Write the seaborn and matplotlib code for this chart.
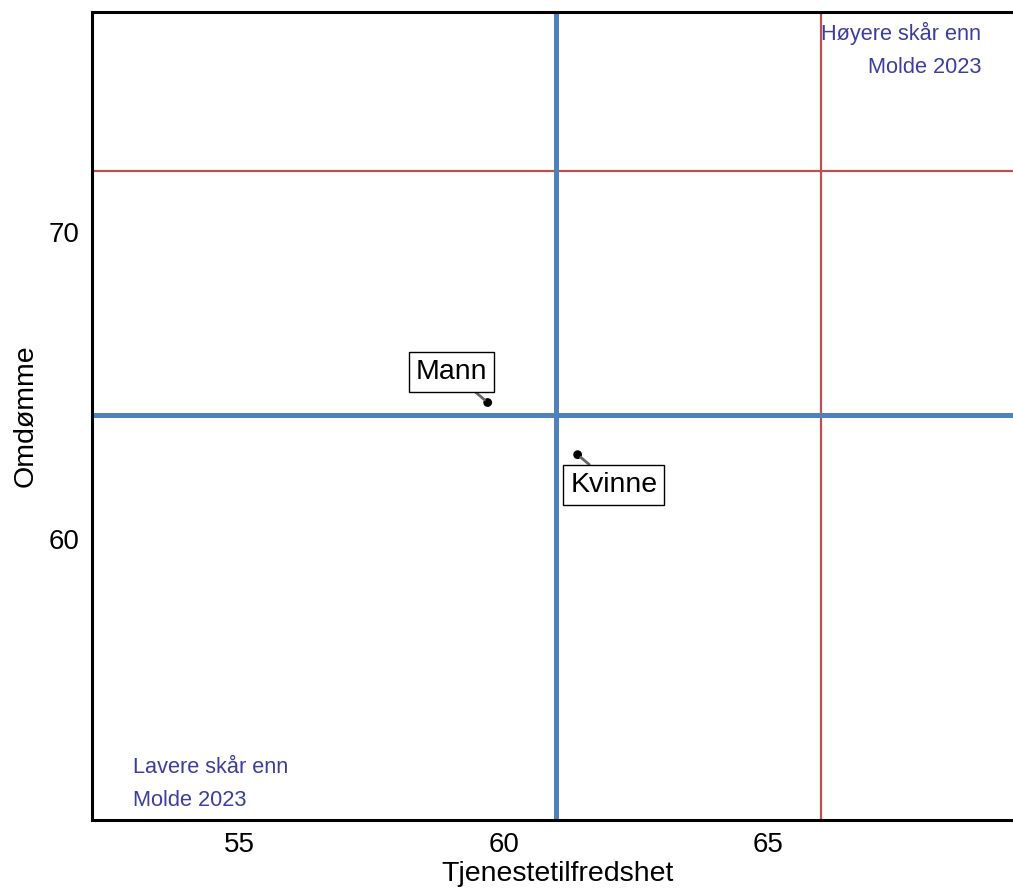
import pandas as pd
import matplotlib
matplotlib.use("Agg")
import matplotlib.pyplot as plt
import seaborn as sns

# data
groups = ["Mann", "Kvinne"]
tjenestetilfredshet = [59.7, 61.4]
omdomme = [64.45, 62.75]

# reference lines (blue = current average, red = Molde 2023)
avg_x = 61.0
avg_y = 64.05
molde_x = 66.0
molde_y = 72.0

label_offsets = [(-26, 22), (26, -22)]

BLUE = "#4F81BD"
RED = "#C0504D"
TEXTCOL = "#3D3DA0"


def make_df():
    return pd.DataFrame({"gruppe": groups,
                         "Tjenestetilfredshet": tjenestetilfredshet,
                         "Omdømme": omdomme})


def quadrant_plot(df):
    sns.set_style("white")
    plt.rcParams["font.family"] = ["Liberation Sans", "DejaVu Sans"]
    plt.rcParams["text.color"] = "black"
    plt.rcParams["axes.labelcolor"] = "black"
    plt.rcParams["xtick.color"] = "black"
    plt.rcParams["ytick.color"] = "black"

    fig = plt.figure(figsize=(10.13, 8.9), dpi=100)
    ax = fig.add_axes([92 / 1013, 70 / 890, 921 / 1013, 808 / 890])

    ax.axvline(molde_x, color=RED, lw=1.6, zorder=1)
    ax.axhline(molde_y, color=RED, lw=1.6, zorder=1)
    ax.axvline(avg_x, color=BLUE, lw=3.6, zorder=2)
    ax.axhline(avg_y, color=BLUE, lw=3.6, zorder=2)

    sns.scatterplot(data=df, x="Tjenestetilfredshet", y="Omdømme",
                    color="black", s=40, edgecolor="none", zorder=4, ax=ax)

    for (_, row), off in zip(df.iterrows(), label_offsets):
        ax.annotate(row["gruppe"],
                    xy=(row["Tjenestetilfredshet"], row["Omdømme"]),
                    xytext=off, textcoords="offset points",
                    ha="center", va="center", fontsize=20.5, zorder=5,
                    color="black",
                    bbox=dict(boxstyle="square,pad=0.25", fc="white",
                              ec="black", lw=1.0),
                    arrowprops=dict(arrowstyle="-", color="#666666",
                                    lw=2, shrinkA=0, shrinkB=3))

    ax.text(69.03, 76.85, "Høyere skår enn\nMolde 2023", ha="right",
            va="top", color=TEXTCOL, fontsize=15.7, linespacing=1.75)
    ax.text(53.0, 51.15, "Lavere skår enn\nMolde 2023", ha="left",
            va="bottom", color=TEXTCOL, fontsize=15.7, linespacing=1.75)

    ax.set_xlim(52.22, 69.63)
    ax.set_ylim(50.85, 77.17)
    ax.set_xticks([55, 60, 65])
    ax.set_yticks([60, 70])
    ax.tick_params(length=0, labelsize=20, pad=9)
    ax.set_xlabel("Tjenestetilfredshet", fontsize=20.5)
    ax.xaxis.set_label_coords(0.505, -0.051)
    ax.set_ylabel("Omdømme", fontsize=20.5, labelpad=7)

    for side in ["left", "top", "bottom"]:
        ax.spines[side].set_color("black")
        ax.spines[side].set_linewidth(2.2)
    ax.spines["right"].set_visible(False)

    fig.savefig("out.png", dpi=100)


def main():
    df = make_df()
    quadrant_plot(df)


main()
